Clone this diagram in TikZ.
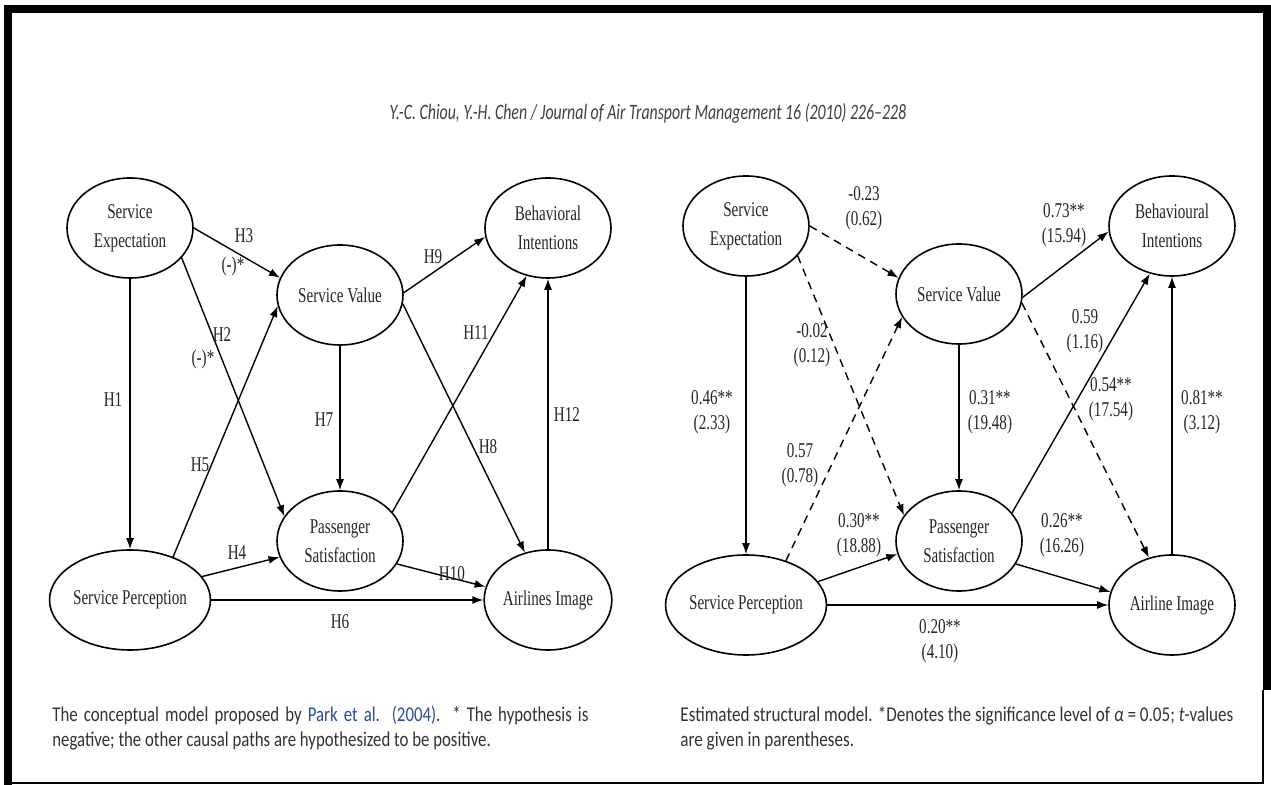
\documentclass[tikz,border=0pt]{standalone}
\usepackage{fontspec}
\usepackage{graphicx}
\setmainfont{Liberation Serif}
\newfontfamily\capfamily[Ligatures=TeX]{Carlito}
\usetikzlibrary{shapes.geometric,arrows.meta}
\definecolor{linkblue}{HTML}{2B4C9B}
\definecolor{captxt}{HTML}{333333}
\newcommand{\myxs}[1]{\scalebox{0.72}[1]{#1}}
\newcommand{\capxs}[1]{\scalebox{0.80}[1]{#1}}
\tikzset{
  ell/.style={ellipse, draw, line width=0.8pt, minimum width=63pt, minimum height=50pt,
    inner sep=0pt, align=center, text=black!85, font=\fontsize{10.5}{14.5}\selectfont},
  lbl/.style={inner sep=0pt, align=center, text=black!85, font=\fontsize{10.5}{12.5}\selectfont},
  arr/.style={line width=0.7pt, -{Latex[length=5.5pt,width=4pt]}},
  darr/.style={arr, dash pattern=on 4pt off 3pt},
  captionbox/.style={inner sep=0pt, anchor=base west, text=captxt, font=\capfamily\fontsize{10.5}{12.5}\selectfont}
}
\begin{document}
\begin{tikzpicture}[x=0.5pt,y=-0.5pt]
\useasboundingbox (0,0) rectangle (1271,785);
\fill[white] (0,0) rectangle (1271,785);
% frame
\draw[line width=4pt] (8,785) -- (8,9.5) -- (1267,9.5) -- (1267,690);
\draw[line width=1pt] (1263,690) -- (1263,783) -- (8,783);
% title
\node[inner sep=0pt, text=black!75, font=\capfamily\itshape\fontsize{11}{13}\selectfont] (title) at (648,113)
  {\scalebox{0.72}[1]{Y.-C. Chiou, Y.-H. Chen / Journal of Air Transport Management 16 (2010) 226–228}};

% ---------- left model ----------
\node[ell] (se) at (130,228) {\myxs{Service}\\\myxs{Expectation}};
\node[ell] (sv) at (340,295) {\myxs{Service Value}};
\node[ell] (bi) at (548,228) {\myxs{Behavioral}\\\myxs{Intentions}};
\node[ell] (ps) at (340,541) {\myxs{Passenger}\\\myxs{Satisfaction}};
\node[ell] (sp) at (130,600) {\myxs{Service Perception}};
\node[ell] (ai) at (548,600) {\myxs{Airlines Image}};

\draw[arr] (se) -- (sp);
\draw[arr] (se.0) -- (sv.164);
\draw[arr] (se.-30) -- (ps.156);
\draw[arr] (sp.45) -- (sv.190);
\draw[arr] (sv) -- (ps);
\draw[arr] (sv.2) -- (bi.188);
\draw[arr] (sv.-8) -- (ai.116);
\draw[arr] (ps.29) -- (bi.-114);
\draw[arr] (ai) -- (bi);
\draw[arr] (sp.18) -- (ps.195);
\draw[arr] (ps.-22) -- (ai.168);
\draw[arr] (sp) -- (ai);

\node[lbl] (h3) at (244,236) {\myxs{H3}};
\node[lbl] (h3n) at (233,266) {\myxs{(-)*}};
\node[lbl] (h2) at (222,335) {\myxs{H2}};
\node[lbl] (h2n) at (203,359) {\myxs{(-)*}};
\node[lbl] (h1) at (113,400) {\myxs{H1}};
\node[lbl] (h5) at (200,465) {\myxs{H5}};
\node[lbl] (h7) at (324,420) {\myxs{H7}};
\node[lbl] (h9) at (433,257) {\myxs{H9}};
\node[lbl] (h11) at (476,333) {\myxs{H11}};
\node[lbl] (h8) at (488,447) {\myxs{H8}};
\node[lbl] (h12) at (567,415) {\myxs{H12}};
\node[lbl] (h4) at (237,553) {\myxs{H4}};
\node[lbl] (h10) at (452,574) {\myxs{H10}};
\node[lbl] (h6) at (340,622) {\myxs{H6}};

% ---------- right model ----------
\node[ell] (rse) at (746,226) {\myxs{Service}\\\myxs{Expectation}};
\node[ell] (rsv) at (959,294) {\myxs{Service Value}};
\node[ell] (rbi) at (1172,226) {\myxs{Behavioural}\\\myxs{Intentions}};
\node[ell] (rps) at (959,541) {\myxs{Passenger}\\\myxs{Satisfaction}};
\node[ell] (rsp) at (746,605) {\myxs{Service Perception}};
\node[ell] (rai) at (1172,605) {\myxs{Airline Image}};

\draw[arr] (rse) -- (rsp);
\draw[darr] (rse.0) -- (rsv.165);
\draw[darr] (rse.-30) -- (rps.155);
\draw[darr] (rsp.48) -- (rsv.202);
\draw[arr] (rsv) -- (rps);
\draw[arr] (rsv.-3) -- (rbi.185);
\draw[darr] (rsv.-8) -- (rai.116);
\draw[arr] (rps.28) -- (rbi.-115);
\draw[arr] (rai) -- (rbi);
\draw[arr] (rsp.18) -- (rps.192);
\draw[arr] (rps.-22) -- (rai.168);
\draw[arr] (rsp) -- (rai);

\node[lbl] (l1) at (864,208) {\myxs{-0.23}\\\myxs{(0.62)}};
\node[lbl] (l2) at (812,345) {\myxs{-0.02}\\\myxs{(0.12)}};
\node[lbl] (l3) at (712,412) {\myxs{0.46**}\\\myxs{(2.33)}};
\node[lbl] (l4) at (800,465) {\myxs{0.57}\\\myxs{(0.78)}};
\node[lbl] (l5) at (990,412) {\myxs{0.31**}\\\myxs{(19.48)}};
\node[lbl] (l6) at (1064,225) {\myxs{0.73**}\\\myxs{(15.94)}};
\node[lbl] (l7) at (1085,331) {\myxs{0.59}\\\myxs{(1.16)}};
\node[lbl] (l8) at (1111,399) {\myxs{0.54**}\\\myxs{(17.54)}};
\node[lbl] (l9) at (1202,412) {\myxs{0.81**}\\\myxs{(3.12)}};
\node[lbl] (l10) at (859,535) {\myxs{0.30**}\\\myxs{(18.88)}};
\node[lbl] (l11) at (1062,535) {\myxs{0.26**}\\\myxs{(16.26)}};
\node[lbl] (l12) at (940,641) {\myxs{0.20**}\\\myxs{(4.10)}};

% ---------- captions ----------
\node[captionbox] (c1) at (52,722) {\capxs{\makebox[335pt][s]{The conceptual model proposed by \textcolor{linkblue}{Park et al. (2004)}. * The hypothesis is}}};
\node[captionbox] (c2) at (52,747) {\capxs{negative; the other causal paths are hypothesized to be positive.}};
\node[captionbox] (c3) at (680,722) {\scalebox{0.815}[1]{Estimated structural model. *Denotes the significance level of \textit{α} = 0.05; \textit{t}-values}};
\node[captionbox] (c4) at (680,747) {\scalebox{0.815}[1]{are given in parentheses.}};
\end{tikzpicture}
\end{document}
